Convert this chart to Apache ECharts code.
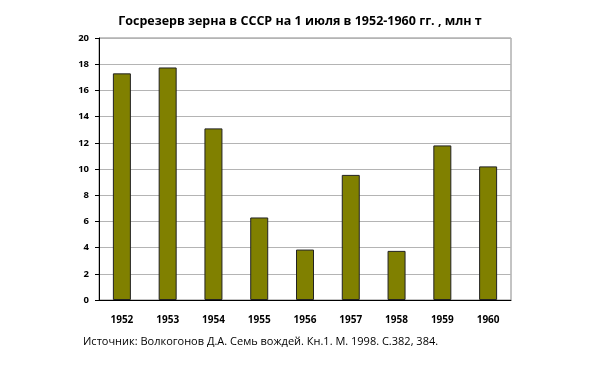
<!DOCTYPE html>
<html><head><meta charset="utf-8">
<script src="https://cdn.jsdelivr.net/npm/echarts@6/dist/echarts.min.js"></script>
<style>html,body{margin:0;padding:0;background:#fff}#c{width:600px;height:375px}</style>
</head><body><div id="c"></div>
<script>
const years = ['1952','1953','1954','1955','1956','1957','1958','1959','1960'];
const reserve = [17.3, 17.75, 13.1, 6.3, 3.85, 9.55, 3.75, 11.8, 10.2];
const yTicks = [0, 2, 4, 6, 8, 10, 12, 14, 16, 18, 20];
const titleText = 'Госрезерв зерна в СССР на 1 июля в 1952-1960 гг. , млн т';
const sourceText = 'Источник: Волкогонов Д.А. Семь вождей. Кн.1. М. 1998. С.382, 384.';

const chart = echarts.init(document.getElementById('c'));
chart.setOption({
  animation: false,
  title: {
    text: titleText, left: 'center', top: 10,
    textStyle: {fontFamily: 'Open Sans', fontWeight: 'bold', fontSize: 12.5, color: '#000'}
  },
  graphic: [{
    type: 'text', left: 83, top: 336,
    style: {text: sourceText, fontFamily: 'Open Sans', fontSize: 11, fill: '#000'}
  }],
  grid: {left: 99, right: 89, top: 38, bottom: 75, show: true, borderColor: '#888', borderWidth: 1},
  xAxis: {
    type: 'category', data: years,
    axisLine: {lineStyle: {color: '#000', width: 1}},
    axisTick: {show: false},
    axisLabel: {fontFamily: 'Open Sans', fontWeight: 'bold', fontSize: 10, color: '#000', margin: 15}
  },
  yAxis: {
    type: 'value', min: yTicks[0], max: yTicks[yTicks.length-1], interval: 2,
    axisLine: {show: true, lineStyle: {color: '#000', width: 1}},
    axisTick: {show: true, length: 4, lineStyle: {color: '#000'}},
    axisLabel: {fontFamily: 'Open Sans', fontWeight: 'bold', fontSize: 9.5, color: '#000', margin: 10},
    splitLine: {lineStyle: {color: '#b4b4b4', width: 1}}
  },
  series: [{
    type: 'bar', data: reserve, barWidth: 18,
    itemStyle: {color: '#808000', borderColor: '#222', borderWidth: 1}
  }]
});
</script></body></html>
